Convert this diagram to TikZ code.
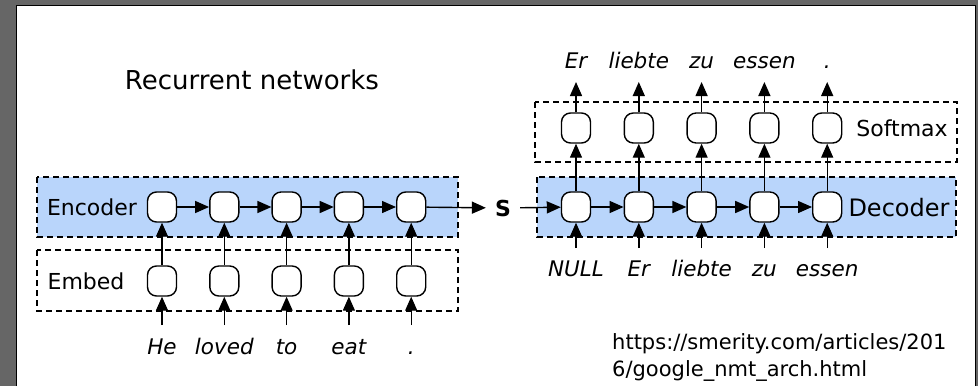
\documentclass[tikz,border=0pt]{standalone}
\usepackage{fontspec}
\setmainfont{DejaVu Sans}
\usetikzlibrary{arrows.meta}

\definecolor{bandblue}{RGB}{185,213,251}
\definecolor{framegray}{RGB}{102,102,102}

\begin{document}
\begin{tikzpicture}[x=1pt,y=1pt,
  cell/.style={draw,fill=white,line width=1.4pt,rounded corners=9pt,
    minimum width=29pt,minimum height=30pt,inner sep=0pt},
  band/.style={draw,dash pattern=on 6pt off 4pt,line width=1.3pt},
  arr/.style={line width=1.4pt,-{Triangle[length=14pt,width=12pt]}},
  word/.style={font=\fontsize{21.5}{26}\selectfont\itshape,
    text height=16pt,text depth=5pt},
  tag/.style={font=\fontsize{22}{26}\selectfont}]
\useasboundingbox (0,0) rectangle (978,-386);
% frame
\fill[framegray] (0,0) rectangle (978,-386);
\filldraw[fill=white,line width=1.5pt] (16.5,-386) -- (16.5,-5.5) -- (975.5,-5.5) -- (975.5,-386);

\node[font=\fontsize{26}{30}\selectfont] (title) at (252,-80) {Recurrent networks};

% layer boxes
\draw[band,fill=bandblue] (37,-177) rectangle (458,-237);
\draw[band] (37,-250) rectangle (458,-311);
\draw[band,fill=bandblue] (537,-177) rectangle (956,-237);
\draw[band] (535,-102) rectangle (957,-162);
\node[tag] (encl) at (92,-207) {Encoder};
\node[tag] (embl) at (86,-281) {Embed};
\node[tag,font=\fontsize{24}{28}\selectfont] (decl) at (899,-208) {Decoder};
\node[tag] (smxl) at (902,-128) {Softmax};

% encoder side
\foreach \i/\w in {1/He,2/loved,3/to,4/eat,5/.} {
  \pgfmathsetmacro\xx{162+(\i-1)*62.3}
  \node[cell] (enc\i) at (\xx,-207) {};
  \node[cell] (emb\i) at (\xx,-281) {};
  \coordinate (in\i) at (\xx,-325);
  \node[word] (src\i) at (\xx,-349) {\w};
  \draw[arr] (in\i) -- (emb\i);
  \draw[arr] (emb\i) -- (enc\i);
}
\foreach \i [evaluate=\i as \j using int(\i+1)] in {1,...,4}
  \draw[arr] (enc\i) -- (enc\j);

\node[font=\fontsize{22}{26}\selectfont\bfseries,inner xsep=9pt] (s) at (503,-208) {S};
\draw[arr] (enc5) -- (s);

% decoder side
\foreach \i/\w/\o in {1/NULL/Er,2/Er/liebte,3/liebte/zu,4/zu/essen,5/essen/.} {
  \pgfmathsetmacro\xx{576+(\i-1)*62.8}
  \node[cell] (dec\i) at (\xx,-207) {};
  \node[cell] (smx\i) at (\xx,-128) {};
  \coordinate (din\i) at (\xx,-248);
  \coordinate (dout\i) at (\xx,-82);
  \node[word] (tgt\i) at (\xx,-271) {\w};
  \node[word] (out\i) at (\xx,-63) {\o};
  \draw[arr] (din\i) -- (dec\i);
  \draw[arr] (dec\i) -- (smx\i);
  \draw[arr] (smx\i) -- (dout\i);
}
\draw[arr] (s) -- (dec1);
\foreach \i [evaluate=\i as \j using int(\i+1)] in {1,...,4}
  \draw[arr] (dec\i) -- (dec\j);

\node[anchor=west,align=left,inner sep=0pt,font=\fontsize{21}{27}\selectfont] (url)
  at (612,-357) {https://smerity.com/articles/201\\6/google\_nmt\_arch.html};
\end{tikzpicture}
\end{document}
